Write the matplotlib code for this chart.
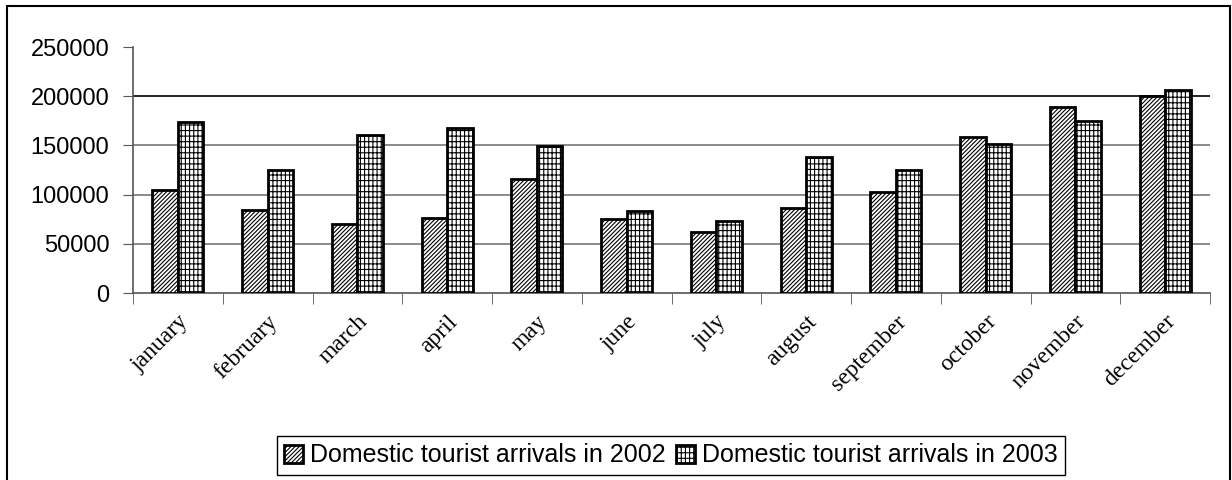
import numpy as np
import matplotlib
matplotlib.use('Agg')
import matplotlib.pyplot as plt
from matplotlib.patches import Rectangle

# data
months = ['january', 'february', 'march', 'april', 'may', 'june',
          'july', 'august', 'september', 'october', 'november', 'december']
arrivals_2002 = [104500, 84500, 70500, 76500, 116000, 75000,
                 62500, 86500, 103000, 158500, 189000, 200000]
arrivals_2003 = [173500, 124500, 161000, 168000, 149000, 83000,
                 73500, 138000, 125000, 151500, 174500, 206000]
yticks = [0, 50000, 100000, 150000, 200000, 250000]

plt.rcParams['hatch.linewidth'] = 0.8

fig = plt.figure(figsize=(12.32, 4.8), dpi=100)
ax = fig.add_axes([133/1232, 1-293/480, (1210-133)/1232, (293-47)/480])

x = np.arange(len(months))
w = 0.285
ax.bar(x - w/2, arrivals_2002, w, color='white', edgecolor='black', lw=2.0,
       hatch='////////', label='Domestic tourist arrivals in 2002', zorder=3)
ax.bar(x + w/2, arrivals_2003, w, color='white', edgecolor='black', lw=2.0,
       hatch='||||---', label='Domestic tourist arrivals in 2003', zorder=3)

ax.set_xlim(-0.5, len(months) - 0.5)
ax.set_ylim(0, 250000)
ax.set_yticks(yticks)
ax.set_yticklabels([str(v) for v in yticks], fontsize=17, family='Liberation Sans')
ax.tick_params(axis='y', length=7, color='#555555', pad=10)

# month labels at centres, tick marks at category boundaries
ax.set_xticks(x)
ax.set_xticklabels(months, rotation=45, ha='right', rotation_mode='anchor',
                   fontsize=17, family='Liberation Serif')
ax.tick_params(axis='x', length=0, pad=13)
ax.set_xticks(np.arange(len(months) + 1) - 0.5, minor=True)
ax.tick_params(axis='x', which='minor', length=8, color='#555555')

for v in yticks[1:-1]:
    ax.axhline(v, color='black' if v == 200000 else '#777777', lw=1.2, zorder=1)

for s in ['top', 'right']:
    ax.spines[s].set_visible(False)
ax.spines['left'].set_color('#555555')
ax.spines['bottom'].set_color('#555555')
ax.spines['left'].set_linewidth(1.2)
ax.spines['bottom'].set_linewidth(1.2)

leg = fig.legend(loc='center', bbox_to_anchor=(671/1232, 1-455.5/480), ncol=2,
                 fancybox=False, framealpha=1, edgecolor='black',
                 handlelength=0.75, handleheight=0.75, handletextpad=0.3,
                 columnspacing=0.4, borderpad=0.3,
                 prop={'family': 'Liberation Sans', 'size': 18})
leg.get_frame().set_linewidth(1.0)

# outer chart border
fig.patches.append(Rectangle((7/1232, -0.05), (1230-7)/1232, 1.05-6/480,
                             transform=fig.transFigure, fill=False,
                             edgecolor='black', lw=1.5))

fig.savefig('out.png', dpi=100)
